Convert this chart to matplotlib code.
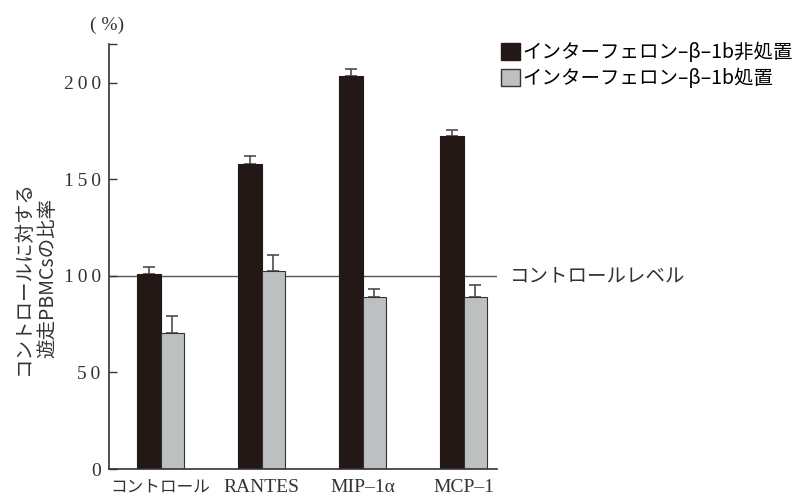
import numpy as np
import matplotlib.pyplot as plt
from matplotlib.patches import Patch

plt.rcParams['font.family'] = ['Noto Sans CJK JP', 'DejaVu Sans']

# ratio of migrating PBMCs vs. control (%)
categories = ['コントロール', 'RANTES', 'MIP–1α', 'MCP–1']
untreated = [101, 158, 203.3, 172.4]
untreated_err = [3.8, 4.0, 3.6, 3.0]
treated = [70.3, 102.5, 89, 89]
treated_err = [8.8, 8.5, 4.2, 6.2]
control_level = 100
yticks = [0, 50, 100, 150, 200]

dark = '#231815'
light = '#bcc0c1'
err_color = '#4d4d4d'
txt = '#333333'
serif = ['Liberation Serif', 'DejaVu Serif']

fig = plt.figure(figsize=(7.96, 4.98), dpi=100)
ax = fig.add_axes([0.137, 0.0582, 0.4874, 0.8534])

x = np.arange(len(categories))
w = 0.233

ax.axhline(control_level, color='#555555', lw=1.0, zorder=1)

ax.bar(x - w / 2, untreated, w, color=dark, edgecolor=dark, lw=0.8, zorder=2)
ax.bar(x + w / 2, treated, w, color=light, edgecolor=txt, lw=0.8, zorder=2)
ax.errorbar(x - w / 2, untreated, yerr=[np.zeros(4), untreated_err], fmt='none',
            ecolor=err_color, elinewidth=1.2, capsize=4.5, capthick=1.2, zorder=1)
ax.errorbar(x + w / 2, treated, yerr=[np.zeros(4), treated_err], fmt='none',
            ecolor=err_color, elinewidth=1.2, capsize=4.5, capthick=1.2, zorder=1)

ax.set_xlim(-0.51, 3.33)
ax.set_ylim(0, 220)
# extra unlabeled tick closes the top of the axis
ax.set_yticks(yticks + [220])
ax.set_yticklabels(['\u2009'.join(str(v)) for v in yticks] + [''], family=serif,
                   fontsize=14, color=txt)
ax.tick_params(axis='y', direction='in', length=6, width=1.0, color=txt, pad=6)
ax.set_xticks(x)
ax.set_xticklabels(categories, fontsize=12, color=txt)
for lbl in ax.get_xticklabels()[1:]:
    lbl.set_family(serif)
    lbl.set_fontsize(14)
ax.tick_params(axis='x', length=0, pad=7)

for s in ['top', 'right']:
    ax.spines[s].set_visible(False)
for s in ['left', 'bottom']:
    ax.spines[s].set_color(txt)
    ax.spines[s].set_linewidth(1.2)

fig.text(0.135, 0.95, '( %)', family=serif, fontsize=14, color=txt, ha='center', va='center')
fig.text(0.045, 0.442, 'コントロールに対する\n遊走PBMCsの比率', rotation=90,
         fontsize=14, color=txt, ha='center', va='center', linespacing=1.25)
ax.text(3.46, control_level, 'コントロールレベル', fontsize=14, color=txt,
        va='center', ha='left', clip_on=False)

handles = [Patch(facecolor=dark, edgecolor=dark), Patch(facecolor=light, edgecolor=txt)]
fig.legend(handles, ['インターフェロン–β–1b非処置', 'インターフェロン–β–1b処置'],
           loc='upper left', bbox_to_anchor=(0.630, 0.915), frameon=False,
           fontsize=14, handlelength=0.95, handleheight=0.95, handletextpad=0.1,
           labelspacing=0.25, borderpad=0, borderaxespad=0)

fig.savefig('out.png', dpi=100)
